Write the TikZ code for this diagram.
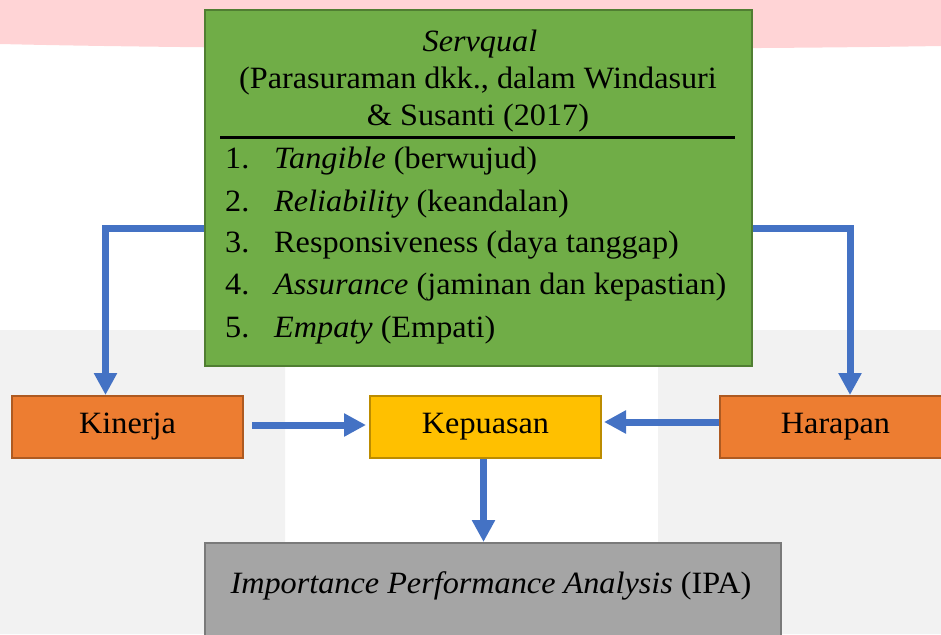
\documentclass[tikz,border=0pt]{standalone}
\usepackage{fontspec}
\setmainfont{Liberation Serif}[FakeStretch=1.04]
\usepackage{xcolor}
\usepackage{tikz}
\usetikzlibrary{arrows.meta,calc}
\definecolor{pinkbg}{HTML}{FFD4D6}
\definecolor{greybg}{HTML}{F2F2F2}
\definecolor{green}{HTML}{70AD47}
\definecolor{greenedge}{HTML}{507E32}
\definecolor{orange}{HTML}{ED7D31}
\definecolor{orangeedge}{HTML}{AE5A21}
\definecolor{yellow}{HTML}{FFC000}
\definecolor{yellowedge}{HTML}{BC8C00}
\definecolor{grey}{HTML}{A5A5A5}
\definecolor{greyedge}{HTML}{7A7A7A}
\definecolor{blue}{HTML}{4472C4}
\tikzset{
  box/.style={rectangle, line width=2pt, inner sep=0pt},
  gbox/.style={box, fill=green, draw=greenedge},
  obox/.style={box, fill=orange, draw=orangeedge, minimum width=231, minimum height=62},
  ybox/.style={box, fill=yellow, draw=yellowedge, minimum width=231, minimum height=62},
  abox/.style={box, fill=grey, draw=greyedge},
  conn/.style={-{Triangle[width=22pt,length=22pt]}, line width=7pt, draw=blue},
  txt/.style={inner sep=0pt, font=\fontsize{31}{36.5}\selectfont}
}

\begin{document}
\begin{tikzpicture}[x=1pt,y=-1pt]
  \useasboundingbox (0,0) rectangle (941,634);
  % background
  \fill[pinkbg] (0,0) -- (941,0) -- (941,46) .. controls (700,50) and (250,50) .. (0,44) -- cycle;
  \fill[greybg] (0,330) -- (225,330) arc[start angle=90, end angle=0, radius=60] -- (285,634) -- (0,634) -- cycle;
  \fill[greybg] (941,330) -- (718,330) arc[start angle=90, end angle=180, radius=60] -- (658,634) -- (941,634) -- cycle;
  % boxes
  \node[gbox, minimum width=547, minimum height=356] (servqual) at (478.5,188) {};
  \node[txt, anchor=base] (title1) at (480,52) {\textit{Servqual}};
  \node[txt, anchor=base] (title2) at (478,88) {(Parasuraman dkk., dalam Windasuri};
  \node[txt, anchor=base] (title3) at (478,125) {\& Susanti (2017)};
  \draw[line width=3pt] (220,137) -- (735,137);
  \foreach \n/\y/\t in {1/168/{\textit{Tangible} (berwujud)},
                        2/211/{\textit{Reliability} (keandalan)},
                        3/252/{Responsiveness (daya tanggap)},
                        4/294/{\textit{Assurance} (jaminan dan kepastian)},
                        5/337/{\textit{Empaty} (Empati)}}{
    \node[txt, anchor=base west] (num\n) at (225,\y) {\n.};
    \node[txt, anchor=base west] (item\n) at (274,\y) {\t};
  }
  \node[obox, txt] (kinerja) at (127.5,427) {Kinerja};
  \node[ybox, txt] (kepuasan) at (485.5,427) {Kepuasan};
  \node[obox, txt] (harapan) at (835.5,427) {Harapan};
  \node[abox, minimum width=576, minimum height=104] (ipa) at (493,595) {};
  \node[txt, anchor=base] (ipatext) at (491,593)
    {\textit{Importance Performance Analysis} (IPA)};
  % arrows
  \draw[conn] ([yshift=-40]servqual.west) -| ([xshift=-22]kinerja.north);
  \draw[conn] ([yshift=-40]servqual.east) -| ([xshift=14.5]harapan.north);
  \draw[conn] ([xshift=8,yshift=2]kinerja.east) -- ([xshift=-3,yshift=2]kepuasan.west);
  \draw[conn] ([yshift=5]harapan.west) -- ([xshift=2,yshift=5]kepuasan.east);
  \draw[conn] ([xshift=-2]kepuasan.south) -- ([xshift=-2]kepuasan.south |- ipa.north);
\end{tikzpicture}
\end{document}
